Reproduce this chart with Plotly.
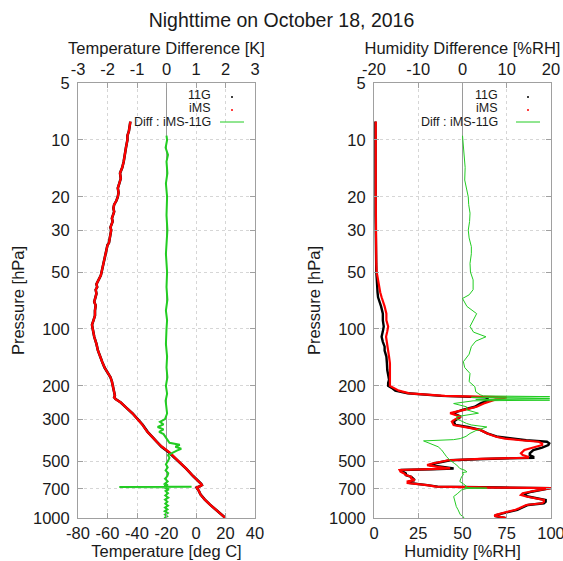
import plotly.graph_objects as go

# ---------------- data ----------------
# Temperature profile (deg C) vs pressure (hPa)
p_T = [1000, 950, 900, 850, 800, 750, 720, 700, 690, 680, 670, 660, 640, 620, 600, 550,
       500, 450, 420, 400, 370, 350, 320, 300, 280, 260, 245, 235, 230, 225, 215, 200,
       190, 180, 170, 160, 150, 140, 130, 120, 110, 100, 95, 90, 85, 80, 75, 72, 68,
       65, 62, 60, 58, 55, 52, 50, 48, 45, 42, 40, 38, 36, 35, 33, 31, 30, 29, 28, 27,
       26, 25, 24, 23, 22, 21, 20, 19, 18, 17, 16, 15, 14, 13, 12, 11, 10, 9.5, 9, 8.5, 8]
T_iMS = [20, 16.5, 13, 9.5, 6, 3, 2, 1.2, 0.5, 2.5, 4.0, 3.5, 1.5, 0, -2, -6.5,
         -12, -18, -23, -26, -30, -33, -36.5, -39.5, -43, -47.5, -51, -54.5, -55.5, -55, -55.5, -56,
         -57, -58, -60, -62, -63.5, -65, -66.5, -67.5, -69, -70, -70.5, -69.5, -68.5, -68.5, -68, -69, -68,
         -67.5, -68, -67, -67.5, -66, -64.5, -64, -63.5, -62.5, -62, -61.5, -60.5, -60, -59, -58.5, -58, -57.5, -58, -57, -56.5,
         -57, -56, -55.5, -56, -55.5, -54, -53, -52.5, -53, -52, -51, -51.5, -50, -49, -48.5, -47.5, -46.5, -46.5, -45.5, -45, -44.5]
T_11G = [20, 16.5, 13, 9.5, 6, 3, 2, 1.2, 0.4, 2.6, 4.0, 3.5, 1.5, 0, -2, -6.5,
         -12, -18.3, -23.4, -26.1, -30, -32.8, -36.3, -39.4, -43, -47.5, -51, -54.5, -55.5, -55, -55.5, -56,
         -57, -58, -60, -62, -63.5, -65, -66.5, -67.5, -69, -70, -70.5, -69.5, -68.5, -68.5, -68, -69, -68,
         -67.5, -68, -67, -67.5, -66, -64.5, -64, -63.5, -62.5, -62, -61.5, -60.5, -60, -59, -58.5, -58, -57.5, -58, -57, -56.5,
         -57, -56, -55.5, -56, -55.5, -54, -53, -52.5, -53, -52, -51, -51.5, -50, -49, -48.5, -47.5, -46.5, -46.5, -45.5, -45, -44.5]

# Temperature difference iMS-11G (K)
p_dT = [1000, 980, 960, 940, 920, 900, 880, 860, 840, 820, 800, 780, 760, 740, 720, 705, 695,
        688, 686, 685, 684, 682, 678, 670, 660, 640, 620, 600, 580, 560, 540, 520, 500, 480,
        465, 450, 440, 430, 420, 410, 400, 390, 380, 370, 360, 350, 340, 330, 320, 310, 300,
        280, 260, 240, 220, 200, 180, 160, 140, 120, 100, 90, 80, 70, 60, 50, 40, 30, 25, 20,
        17, 15, 13, 12, 11, 10, 9.5]
dT = [-0.08, 0.02, -0.05, 0.04, -0.06, 0.03, -0.05, 0.05, -0.04, 0.03, -0.05, 0.06, -0.04, 0.05, -0.03, 0.08, -0.06,
      0.1, -1.6, 0.0, 0.85, 0.05, -0.08, 0.05, -0.06, 0.04, -0.05, 0.03, 0.06, -0.03, 0.04, -0.02, 0.05, 0.1,
      0.05, 0.2, 0.35, 0.5, 0.3, 0.45, 0.1, 0.05, 0.0, -0.05, -0.1, -0.25, -0.1, -0.3, -0.1, -0.22, -0.05,
      0.02, 0.0, -0.03, 0.02, -0.02, 0.03, 0.0, 0.02, -0.02, 0.0, 0.02, -0.02, 0.03, 0.0, 0.02, -0.02, 0.03, 0.0, 0.02,
      -0.02, 0.03, 0.0, 0.05, -0.03, 0.02, 0.0]

# Humidity profile (%RH) vs pressure (hPa)
p_U = [1000, 990, 975, 960, 945, 925, 905, 888, 870, 853, 836, 820, 803, 785, 770, 756, 740, 726,
       712, 700, 695, 690, 682, 670, 660, 653, 641, 630, 617, 605, 593, 581, 568, 557, 552, 547,
       536, 525, 515, 504, 495, 487, 480, 474, 465, 455, 446, 437, 424, 411, 403, 395, 388, 380,
       372, 357, 342, 330, 322, 309, 300, 291, 279, 268, 258, 248, 238, 233, 230, 226, 219, 212,
       205, 200, 193, 186, 175, 165, 152, 140, 130, 124, 117, 110, 103, 97, 90, 83, 76, 72, 68,
       64, 60, 55, 50, 45, 40, 35, 30, 25, 20, 16, 13, 11, 10, 9, 8]
U_iMS = [75, 72, 68, 69, 72, 77, 80, 82, 84, 86, 95, 96, 96, 90, 86, 83, 84, 88,
         94, 99, 100, 70, 35, 30, 24, 19, 19, 23, 21, 21, 18, 17, 15, 14.5, 32, 43,
         36, 30, 33, 37, 42, 60, 87, 87, 84, 83, 84, 85, 90, 95, 95, 93, 83, 74,
         69, 64, 60, 52, 45, 44, 46, 49, 43, 51, 58, 62, 67.5, 72, 75, 40, 20, 14,
         11, 9, 9, 9, 9, 9, 9, 8.5, 8, 8, 7.5, 6.8, 7.5, 8, 7, 7, 6, 5, 4.3,
         3.5, 3, 2.2, 1.5, 1.3, 1.2, 1.2, 1.2, 1.1, 1, 1, 1, 1, 1, 1, 1]
U_11G = [74, 71, 68, 70, 73, 78, 81, 83, 85, 87, 96, 97, 97, 91, 87, 85, 86, 89,
         95, 100, 100, 72, 36, 30, 25, 20, 20, 23, 22, 21, 18, 18, 16, 15, 33, 45,
         38, 31, 34, 38, 43, 62, 90, 90, 88, 88, 89, 90, 95, 98.5, 99, 97.7, 86, 76,
         70, 64, 60, 53, 46, 45, 47, 49, 44.6, 50, 57, 60, 64.6, 64, 63, 38, 19, 12,
         10, 8, 8, 8.5, 8, 7.5, 7.3, 7, 6, 6, 5, 4.3, 5, 5.5, 5, 5, 4, 3, 2.3,
         2, 2, 1.6, 1.3, 1.2, 1.1, 1.0, 1.0, 0.9, 0.9, 0.8, 0.8, 0.8, 0.8, 0.8, 0.8]

# Humidity difference iMS-11G (%RH)
p_dU = [1000, 985, 960, 935, 905, 870, 836, 800, 770, 745, 726, 710, 698, 695, 690, 682, 660,
        641, 620, 605, 590, 575, 570, 560, 547, 535, 525, 515, 504, 490, 474, 455, 437, 420,
        411, 400, 391, 385, 380, 370, 357, 345, 330, 322, 316, 305, 300, 291, 279, 268, 258,
        248, 240, 238, 236, 233, 230, 228, 226, 223, 215, 202, 190, 172, 160, 149, 136, 124,
        116, 110, 104, 97, 90, 83, 76, 69, 66, 62, 55, 50, 45, 40, 36.7, 33, 30, 27, 24.4,
        22, 20, 18, 16.3, 14, 12, 11, 10, 9.5]
dU = [0.3, 0.2, -0.5, -0.8, -1.0, -1.4, -1.6, -1.8, -2.0, -1.2, -0.6, -0.2, 1.0, 5.5, 0.5, 1.0, 0.2,
      -0.6, -0.4, -0.2, 0.2, 0.0, 1.0, 0.6, -0.6, -0.9, -1.3, -1.8, -2.4, -3.0, -3.6, -4.2, -4.7, -5.5,
      -6.6, -7.8, -8.8, -2.0, -0.5, 0.8, 1.7, 3.0, 5.5, 2.0, 0.9, -0.5, -1.3, -1.3, 3.6, 1.0, 0.9,
      -2.0, 2.4, 19.7, 3.0, 19.7, 2.0, 19.7, 4.7, 4.0, 3.0, 2.8, 1.5, 1.7, 0.5, 0.2, 1.5, 2.0,
      3.0, 5.3, 2.5, 1.7, 2.5, 3.2, 1.0, 0.0, 1.5, 2.4, 2.4, 1.8, 1.7, 2.0, 2.0, 1.5, 1.3, 1.6, 1.7,
      1.4, 1.3, 0.9, 0.5, 0.6, 0.3, 0.2, 0.1, 0.0]

p_ticks = [5, 10, 20, 30, 50, 100, 200, 300, 500, 700, 1000]
T_ticks = [-80, -60, -40, -20, 0, 20, 40]
dT_ticks = [-3, -2, -1, 0, 1, 2, 3]
U_ticks = [0, 25, 50, 75, 100]
dU_ticks = [-20, -10, 0, 10, 20]

# ---------------- figure ----------------
W, H = 563, 561
FONT = "Liberation Sans, Arial, sans-serif"
TXT = "#1a1a1a"
RED = "#ff0000"
GREEN = "#22cc22"

def px(x):
    return x / W

def py(y):
    return 1 - y / H

left_dom = [px(78), px(255)]
right_dom = [px(374), px(551)]
y_dom = [py(518), py(83)]

fig = go.Figure()
fig.add_trace(go.Scatter(x=T_11G, y=p_T, mode="lines", line=dict(color="black", width=2.6),
                         xaxis="x", yaxis="y", showlegend=False))
fig.add_trace(go.Scatter(x=T_iMS, y=p_T, mode="lines", line=dict(color=RED, width=2.3),
                         xaxis="x", yaxis="y", showlegend=False))
fig.add_trace(go.Scatter(x=dT, y=p_dT, mode="lines", line=dict(color=GREEN, width=2.0),
                         xaxis="x2", yaxis="y", showlegend=False))
fig.add_trace(go.Scatter(x=U_11G, y=p_U, mode="lines", line=dict(color="black", width=2.4),
                         xaxis="x3", yaxis="y2", showlegend=False))
fig.add_trace(go.Scatter(x=U_iMS, y=p_U, mode="lines", line=dict(color=RED, width=2.2),
                         xaxis="x3", yaxis="y2", showlegend=False))
fig.add_trace(go.Scatter(x=dU, y=p_dU, mode="lines", line=dict(color=GREEN, width=1.0),
                         xaxis="x4", yaxis="y2", showlegend=False))

FS = 16.5
tickfont = dict(family=FONT, size=FS, color=TXT)
titlefont = dict(family=FONT, size=FS, color=TXT)
GRID = "#d6d6d6"
FRAME = "#a0a0a0"

def bottom_axis(dom, rng, ticks, title, anchor):
    return dict(domain=dom, range=rng, tickvals=ticks, ticktext=[str(t) for t in ticks],
                ticks="inside", ticklen=5, tickcolor=FRAME, tickfont=tickfont,
                showgrid=True, gridcolor=GRID, griddash="dot", gridwidth=1,
                zeroline=False, showline=True, linecolor=FRAME, linewidth=1,
                title=dict(text=title, font=titlefont, standoff=3), anchor=anchor,
                ticklabeloverflow="allow", automargin=False, fixedrange=True)

def top_axis(rng, ticks, title, over, anchor):
    return dict(range=rng, tickvals=ticks, ticktext=[str(t) for t in ticks],
                ticks="inside", ticklen=5, tickcolor=FRAME, tickfont=tickfont,
                showgrid=False, zeroline=True, zerolinecolor="#9a9a9a", zerolinewidth=1.2,
                showline=True, linecolor=FRAME, linewidth=1, side="top",
                overlaying=over, anchor=anchor, automargin=False,
                ticklabeloverflow="allow",
                title=dict(text=title, font=titlefont, standoff=1), fixedrange=True)

def p_axis(anchor):
    return dict(type="log", range=[3, 0.69897], domain=y_dom, tickvals=p_ticks,
                ticktext=[str(t) for t in p_ticks], ticks="inside", ticklen=5,
                tickcolor=FRAME, tickfont=tickfont, showgrid=True, gridcolor=GRID,
                griddash="dot", gridwidth=1, showline=True, linecolor=FRAME,
                linewidth=1, mirror="ticks", zeroline=False, anchor=anchor,
                title=dict(text="Pressure [hPa]", font=titlefont, standoff=4),
                ticklabelstandoff=4, automargin=False, fixedrange=True)

fig.update_layout(
    width=W, height=H,
    margin=dict(l=0, r=0, t=0, b=0, autoexpand=False),
    paper_bgcolor="white", plot_bgcolor="white",
    font=dict(family=FONT, color=TXT),
    title=dict(text="Nighttime on October 18, 2016", x=0.5, xanchor="center",
               y=py(20), yanchor="middle", yref="container",
               font=dict(family=FONT, size=19.5, color=TXT)),
    xaxis=bottom_axis(left_dom, [-80, 40], T_ticks, "Temperature [deg C]", "y"),
    xaxis2=top_axis([-3, 3], dT_ticks, "Temperature Difference [K]", "x", "y"),
    xaxis3=bottom_axis(right_dom, [0, 100], U_ticks, "Humidity [%RH]", "y2"),
    xaxis4=top_axis([-20, 20], dU_ticks, "Humidity Difference [%RH]", "x3", "y2"),
    yaxis=p_axis("x"),
    yaxis2=p_axis("x3"),
    showlegend=False,
)

# legend (gnuplot style: text right-aligned, sample to the right)
legend_items = [("11G", 95), ("iMS", 108), ("Diff : iMS-11G", 122)]
for text_right, sample_x in [(213, 232), (500, 528)]:
    for label, yy in legend_items:
        fig.add_annotation(text=label, x=px(text_right), y=py(yy), xref="paper", yref="paper",
                           xanchor="right", yanchor="middle", showarrow=False,
                           font=dict(family=FONT, size=12.5, color=TXT))
    fig.add_shape(type="circle", xref="paper", yref="paper",
                  x0=px(sample_x - 1), x1=px(sample_x + 1), y0=py(96), y1=py(98),
                  fillcolor="black", line=dict(width=0))
    fig.add_shape(type="circle", xref="paper", yref="paper",
                  x0=px(sample_x - 1), x1=px(sample_x + 1), y0=py(109), y1=py(111),
                  fillcolor=RED, line=dict(width=0))
    fig.add_shape(type="line", xref="paper", yref="paper",
                  x0=px(sample_x - 12), x1=px(sample_x + 12), y0=py(122), y1=py(122),
                  line=dict(color=GREEN, width=1))

fig.write_html("out.html",
               config={"displayModeBar": False, "staticPlot": True},
               post_script="document.body.style.margin='0';document.body.style.overflow='hidden';")
